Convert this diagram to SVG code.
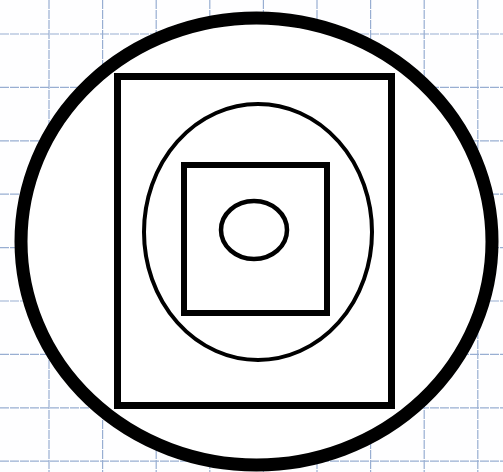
<svg xmlns="http://www.w3.org/2000/svg" width="503" height="472" viewBox="0 0 503 472">
  <style>
    .grid line { stroke: #98aed2; stroke-width: 1.2; stroke-dasharray: 9 1; }
    .shape { fill: none; stroke: #000; }
  </style>
  <rect x="0" y="0" width="503" height="472" fill="#fefeff"/>
  <g class="grid" id="grid">
    <line x1="49" y1="0" x2="49" y2="472"/>
    <line x1="102.6" y1="0" x2="102.6" y2="472"/>
    <line x1="156.2" y1="0" x2="156.2" y2="472"/>
    <line x1="209.8" y1="0" x2="209.8" y2="472"/>
    <line x1="263.4" y1="0" x2="263.4" y2="472"/>
    <line x1="317" y1="0" x2="317" y2="472"/>
    <line x1="370.6" y1="0" x2="370.6" y2="472"/>
    <line x1="424.2" y1="0" x2="424.2" y2="472"/>
    <line x1="477.8" y1="0" x2="477.8" y2="472"/>
    <line x1="0" y1="34" x2="503" y2="34"/>
    <line x1="0" y1="87.4" x2="503" y2="87.4"/>
    <line x1="0" y1="140.8" x2="503" y2="140.8"/>
    <line x1="0" y1="194.2" x2="503" y2="194.2"/>
    <line x1="0" y1="247.6" x2="503" y2="247.6"/>
    <line x1="0" y1="301" x2="503" y2="301"/>
    <line x1="0" y1="354.4" x2="503" y2="354.4"/>
    <line x1="0" y1="407.8" x2="503" y2="407.8"/>
    <line x1="0" y1="461.2" x2="503" y2="461.2"/>
  </g>
  <g id="outer-circle">
    <ellipse cx="256.5" cy="241.5" rx="235.5" ry="223.5" fill="#fff" stroke="#000" stroke-width="13"/>
  </g>
  <g id="rectangle">
    <rect class="shape" x="117.5" y="76.5" width="274" height="329" stroke-width="7"/>
  </g>
  <g id="ellipse">
    <ellipse class="shape" cx="258" cy="232" rx="114" ry="128" stroke-width="4"/>
  </g>
  <g id="square">
    <rect class="shape" x="184" y="165" width="143" height="148" stroke-width="6"/>
  </g>
  <g id="small-circle">
    <ellipse class="shape" cx="254" cy="230" rx="33" ry="29" stroke-width="4.5"/>
  </g>
</svg>
